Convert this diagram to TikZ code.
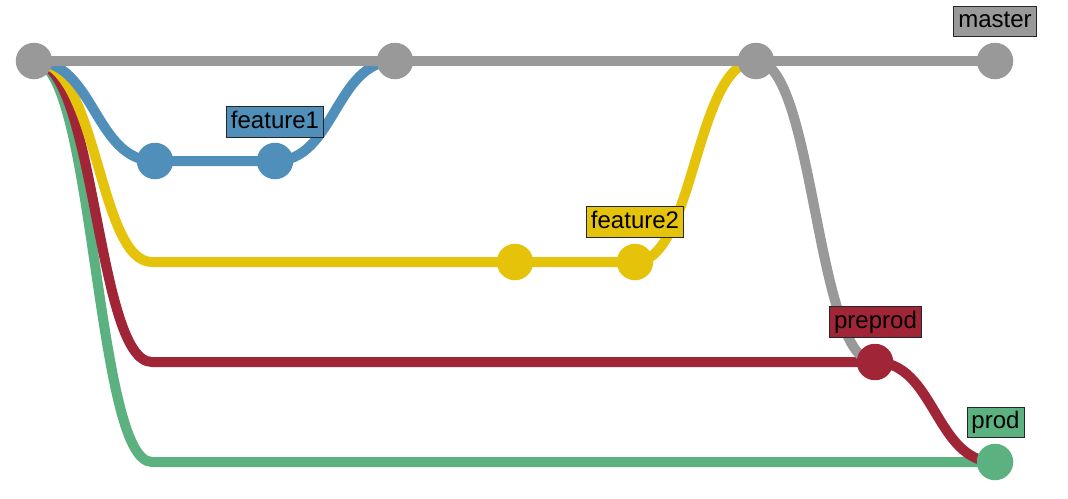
\documentclass[tikz,border=0pt]{standalone}
\usepackage{fontspec}
\setmainfont{Liberation Sans}
\definecolor{cgray}{HTML}{999999}
\definecolor{cblue}{HTML}{4F8FB9}
\definecolor{cyellow}{HTML}{E5C30B}
\definecolor{cred}{HTML}{A02537}
\definecolor{cgreen}{HTML}{5BB17F}
\begin{document}
\begin{tikzpicture}[x=1pt,y=-1pt,
  commit/.style={circle,fill=#1,minimum size=36.5pt,inner sep=0pt},
  branchline/.style={line width=10pt,draw=#1},
  tag/.style={draw=black!85,line width=0.8pt,fill=#1,inner xsep=4.5pt,inner ysep=3.5pt,
    font=\fontsize{24}{28}\selectfont,text height=18.2pt,text depth=5.3pt}]
\useasboundingbox (0,0) rectangle (1068,498);
% commit positions
\coordinate (pm0) at (34,61);
\coordinate (pm1) at (395,61);
\coordinate (pm2) at (756,61);
\coordinate (pm3) at (995,61);
\coordinate (pf1a) at (155,161);
\coordinate (pf1b) at (275,161);
\coordinate (pf2a) at (515,262);
\coordinate (pf2b) at (635,262);
\coordinate (ppre) at (875,362);
\coordinate (pprod) at (995,462);
\coordinate (jy) at (152,262);
\coordinate (jr) at (152,362);
\coordinate (jg) at (152,462);
% lines
\draw[branchline=cgreen] (pm0) .. controls (95,61) and (95,462) .. (jg) -- (pprod);
\draw[branchline=cred] (pm0) .. controls (96,61) and (96,362) .. (jr) -- (ppre);
\draw[branchline=cyellow] (pm0) .. controls (98,61) and (98,262) .. (jy) -- (pf2b)
  .. controls (695,262) and (695,61) .. (pm2);
\draw[branchline=cblue] (pm0) .. controls (94.5,61) and (94.5,161) .. (pf1a) -- (pf1b)
  .. controls (335,161) and (335,61) .. (pm1);
\draw[branchline=cgray] (pm0) -- (pm3);
\draw[branchline=cgray] (pm2) .. controls (815,61) and (815,362) .. (ppre);
\draw[branchline=cred] (ppre) .. controls (935,362) and (935,462) .. (pprod);
% commits
\node[commit=cgray] (m0) at (pm0) {};
\node[commit=cgray] (m1) at (pm1) {};
\node[commit=cgray] (m2) at (pm2) {};
\node[commit=cgray] (m3) at (pm3) {};
\node[commit=cblue] (f1a) at (pf1a) {};
\node[commit=cblue] (f1b) at (pf1b) {};
\node[commit=cyellow] (f2a) at (pf2a) {};
\node[commit=cyellow] (f2b) at (pf2b) {};
\node[commit=cred] (pre) at (ppre) {};
\node[commit=cgreen] (prod) at (pprod) {};
% labels
\node[tag=cgray] (lmaster) at (995,21.5) {master};
\node[tag=cblue] (lf1) at (275,121.7) {feature1};
\node[tag=cyellow] (lf2) at (635,222) {feature2};
\node[tag=cred] (lpre) at (875.5,322) {preprod};
\node[tag=cgreen] (lprod) at (995.5,422.3) {prod};
\end{tikzpicture}
\end{document}
